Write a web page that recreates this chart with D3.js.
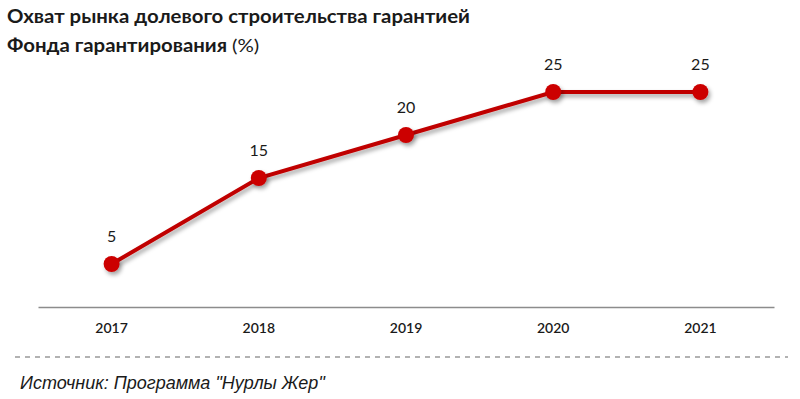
<!DOCTYPE html>
<html><head><meta charset="utf-8">
<script src="https://cdn.jsdelivr.net/npm/d3@7"></script>
<style>body{margin:0;background:#fff}svg{display:block}</style>
</head><body>
<svg id="c" width="800" height="399"></svg>
<script>
const years = ["2017","2018","2019","2020","2021"];
const values = [5, 15, 20, 25, 25];
const titleLines = ["Охват рынка долевого строительства гарантией", "Фонда гарантирования"];
const titleUnit = "(%)";
const source = "Источник: Программа \"Нурлы Жер\"";

const svg = d3.select("#c");
const defs = svg.append("defs");
const f = defs.append("filter").attr("id","sh").attr("x","-50%").attr("y","-50%").attr("width","200%").attr("height","200%");
f.append("feDropShadow").attr("dx",2).attr("dy",3).attr("stdDeviation",2).attr("flood-color","#000").attr("flood-opacity",0.35);

const x = d3.scaleBand().domain(years).range([38, 774]);
const y = d3.scaleLinear().domain([0, 25]).range([307, 92]);

// title
const tf = "Lato, sans-serif";
const t1 = svg.append("text").attr("x",7).attr("y",23).attr("font-family",tf).attr("font-size",18).attr("font-weight",700).attr("fill","#1a1a1a").text(titleLines[0]);
const w1 = t1.node().getComputedTextLength();
t1.attr("textLength",463).attr("lengthAdjust","spacingAndGlyphs");
const t2 = svg.append("text").attr("x",7).attr("y",52).attr("font-family",tf).attr("font-size",18).attr("font-weight",700).attr("fill","#1a1a1a");
t2.append("tspan").text(titleLines[1] + " ");
t2.append("tspan").attr("font-weight",400).text(titleUnit);
const w2 = t2.node().getComputedTextLength();
t2.attr("textLength", w2 * 463 / w1).attr("lengthAdjust","spacingAndGlyphs");

// axis
const xAxis = d3.axisBottom(x).tickSize(0).tickPadding(13);
const ga = svg.append("g").attr("transform","translate(0,307)").call(xAxis);
ga.select(".domain").attr("stroke","#8c8c8c").attr("stroke-width",1.5);
ga.selectAll("text").attr("font-family","Lato, sans-serif").attr("font-size",14).attr("font-weight",600).attr("fill","#1a1a1a").attr("dy","0.72em").attr("y",16);

// line
const cx = d => x(d) + x.bandwidth()/2;
const line = d3.line().x((d,i)=>cx(years[i])).y(d=>y(d));
svg.append("path").datum(values).attr("d",line).attr("fill","none").attr("stroke","#c00000").attr("stroke-width",4).attr("filter","url(#sh)");
svg.selectAll("circle.pt").data(values).join("circle").attr("class","pt")
  .attr("cx",(d,i)=>cx(years[i])).attr("cy",d=>y(d)).attr("r",8).attr("fill","#cc0000").attr("filter","url(#sh)");

svg.selectAll("text.lbl").data(values).join("text").attr("class","lbl")
  .attr("x",(d,i)=>cx(years[i])).attr("y",d=>y(d)-22)
  .attr("text-anchor","middle").attr("font-family","Lato, sans-serif").attr("font-size",16).attr("fill","#1a1a1a").text(d=>d);

// dashed separator
svg.append("line").attr("x1",15).attr("x2",788).attr("y1",357).attr("y2",357).attr("stroke","#666").attr("stroke-width",1.2).attr("stroke-dasharray","5,5");

const sg = svg.append("g");
const st = sg.append("text").attr("x",0).attr("y",0).attr("font-family","Liberation Sans, sans-serif").attr("font-style","italic").attr("font-size",18).attr("fill","#1a1a1a").text(source);
const sw = st.node().getComputedTextLength();
sg.attr("transform",`translate(20,389) scale(${305/sw},1)`);
</script>
</body></html>
